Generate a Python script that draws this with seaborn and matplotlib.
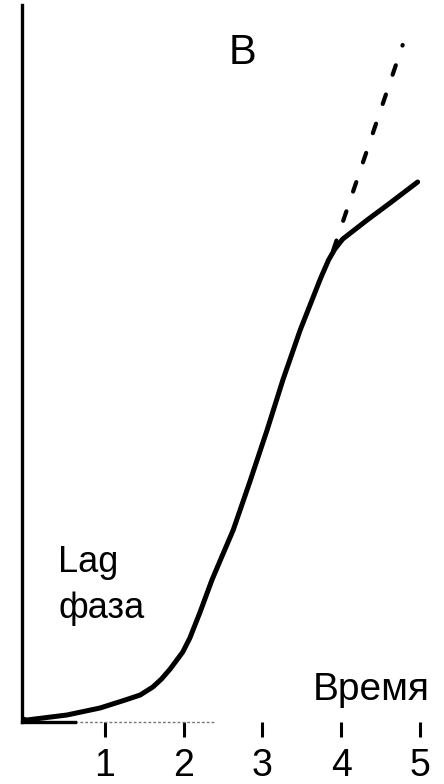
import matplotlib
matplotlib.use("Agg")
import matplotlib.pyplot as plt
from matplotlib import font_manager
import seaborn as sns
import pandas as pd

# ---- data ----
time_solid = [-0.05, 0.01, 0.52, 0.94, 1.26, 1.45, 1.61, 1.72, 1.83, 1.99, 2.08, 2.21, 2.36,
              2.50, 2.63, 2.84, 3.06, 3.26, 3.48, 3.62, 3.74, 3.84, 3.92, 4.02, 4.33, 4.62, 4.97]
growth_solid = [0.03, 0.02, 0.07, 0.14, 0.22, 0.27, 0.35, 0.43, 0.53, 0.70, 0.84, 1.10, 1.42,
                1.68, 1.92, 2.40, 2.92, 3.42, 3.92, 4.20, 4.44, 4.62, 4.73, 4.83, 5.02, 5.19, 5.40]
time_dashed = [3.90, 4.78]
growth_dashed = [4.72, 6.77]
tick_values = [1, 2, 3, 4, 5]
tick_labels = ["1", "2", "3", "4", "5"]
panel_label = "B"
lag_label = ["Lag", "фаза"]
x_label = "Время"

sns.set_theme(style="white")
names = {f.name for f in font_manager.fontManager.ttflist}
fam = "Liberation Sans Narrow" if "Liberation Sans Narrow" in names else "Liberation Sans"
plt.rcParams["font.family"] = [fam, "DejaVu Sans"]

fig = plt.figure(figsize=(4.44, 7.84), dpi=100)
W, H = 444, 784
ax = fig.add_axes([22 / W, (784 - 722) / H, (432 - 22) / W, (722 - 5) / H])

solid = pd.DataFrame({"t": time_solid, "g": growth_solid})
dashed = pd.DataFrame({"t": time_dashed, "g": growth_dashed})
sns.lineplot(data=solid, x="t", y="g", ax=ax, color="black", lw=3.6, sort=False)
ax.lines[-1].set_solid_capstyle("round")
ax.lines[-1].set_solid_joinstyle("round")
sns.lineplot(data=dashed, x="t", y="g", ax=ax, color="black", lw=3.0, sort=False)
ax.lines[-1].set_dashes((2.4, 5.0))
ax.lines[-1].set_dash_capstyle("round")

ax.set_xlim(-0.05, (432 - 26) / 78.8)
ax.set_ylim(0, 7.17)

for s in ["top", "right"]:
    ax.spines[s].set_visible(False)
ax.spines["left"].set_linewidth(2.4)
ax.spines["left"].set_color("black")
ax.spines["bottom"].set_linewidth(2.4)
ax.spines["bottom"].set_color("black")
ax.spines["bottom"].set_bounds(-0.05, 0.62)
ax.plot([0.62, 2.4], [0, 0], color="#777777", lw=1.0, ls=(0, (2, 1.5)), clip_on=False)

ax.set_yticks([])
ax.set_xticks(tick_values)
ax.set_xticklabels(tick_labels)
ax.tick_params(axis="x", direction="out", length=11, width=2.2, color="black",
               pad=8, labelsize=27, labelcolor="black", bottom=True)
ax.set_xlabel("")
ax.set_ylabel("")

ax.text(2.75, 6.58, panel_label, fontsize=30, ha="center", va="baseline", color="black")
ax.text(0.41, 1.50, lag_label[0], fontsize=26, ha="left", va="baseline", color="black")
ax.text(0.41, 1.04, lag_label[1], fontsize=26, ha="left", va="baseline", color="black")
ax.text(3.64, 0.22, x_label, fontsize=28, ha="left", va="baseline", color="black")

fig.savefig("out.png", dpi=100)
